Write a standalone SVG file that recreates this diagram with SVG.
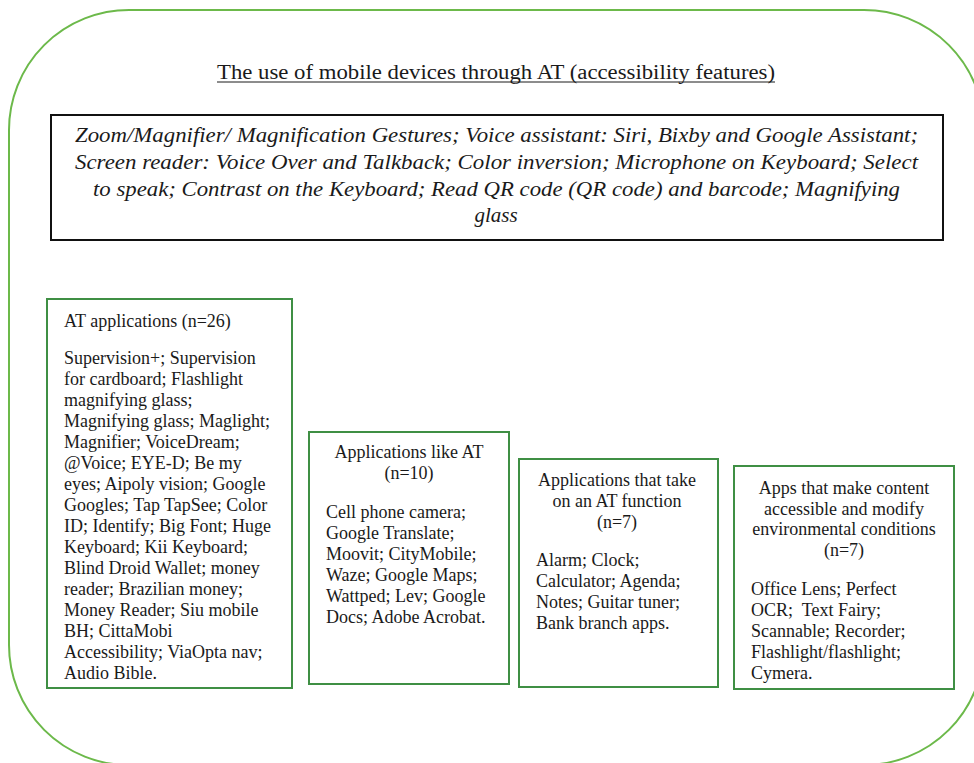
<svg xmlns="http://www.w3.org/2000/svg" width="974" height="763" viewBox="0 0 974 763">
<style>
.t{font-family:"Liberation Serif","Times New Roman",serif;fill:#1a1a1a;font-size:18px}
.c{text-anchor:middle}
.i{font-style:italic;font-size:21px}
.box{fill:#fff;stroke:#3f8f44;stroke-width:2}
</style>
<rect width="974" height="763" fill="#fff"/>
<g id="frame">
<rect x="9" y="10" width="975" height="755" rx="120" ry="120" fill="none" stroke="#6cb94a" stroke-width="2"/>
</g>
<g id="title">
<text class="t c" x="496" y="79" textLength="558" lengthAdjust="spacingAndGlyphs" style="font-size:20px">The use of mobile devices through AT (accessibility features)</text>
<line x1="217" y1="82" x2="775" y2="82" stroke="#1a1a1a" stroke-width="1"/>
</g>
<g id="features">
<rect x="51" y="115" width="892" height="125" fill="#fff" stroke="#111" stroke-width="2"/>
<text class="t i" x="75" y="142" textLength="843" lengthAdjust="spacingAndGlyphs">Zoom/Magnifier/ Magnification Gestures; Voice assistant: Siri, Bixby and Google Assistant;</text>
<text class="t i" x="75" y="169" textLength="843" lengthAdjust="spacingAndGlyphs">Screen reader: Voice Over and Talkback; Color inversion; Microphone on Keyboard; Select</text>
<text class="t i" x="93" y="196" textLength="807" lengthAdjust="spacingAndGlyphs">to speak; Contrast on the Keyboard; Read QR code (QR code) and barcode; Magnifying</text>
<text class="t i c" x="496" y="222">glass</text>
</g>
<g id="at-apps">
<rect class="box" x="47" y="299" width="245" height="389"/>
<text class="t" x="64" y="327">AT applications (n=26)</text>
<text class="t" x="64" y="364">Supervision+; Supervision</text>
<text class="t" x="64" y="385">for cardboard; Flashlight</text>
<text class="t" x="64" y="406">magnifying glass;</text>
<text class="t" x="64" y="427">Magnifying glass; Maglight;</text>
<text class="t" x="64" y="448">Magnifier; VoiceDream;</text>
<text class="t" x="64" y="469">@Voice; EYE-D; Be my</text>
<text class="t" x="64" y="490">eyes; Aipoly vision; Google</text>
<text class="t" x="64" y="511">Googles; Tap TapSee; Color</text>
<text class="t" x="64" y="532">ID; Identify; Big Font; Huge</text>
<text class="t" x="64" y="553">Keyboard; Kii Keyboard;</text>
<text class="t" x="64" y="574">Blind Droid Wallet; money</text>
<text class="t" x="64" y="595">reader; Brazilian money;</text>
<text class="t" x="64" y="616">Money Reader; Siu mobile</text>
<text class="t" x="64" y="637">BH; CittaMobi</text>
<text class="t" x="64" y="658">Accessibility; ViaOpta nav;</text>
<text class="t" x="64" y="679">Audio Bible.</text>
</g>
<g id="like-at">
<rect class="box" x="309" y="432" width="200" height="252"/>
<text class="t c" x="409" y="458">Applications like AT</text>
<text class="t c" x="409" y="479">(n=10)</text>
<text class="t" x="326" y="518">Cell phone camera;</text>
<text class="t" x="326" y="539">Google Translate;</text>
<text class="t" x="326" y="560">Moovit; CityMobile;</text>
<text class="t" x="326" y="581">Waze; Google Maps;</text>
<text class="t" x="326" y="602">Wattped; Lev; Google</text>
<text class="t" x="326" y="623">Docs; Adobe Acrobat.</text>
</g>
<g id="at-function">
<rect class="box" x="519" y="459" width="199" height="228"/>
<text class="t c" x="617" y="486">Applications that take</text>
<text class="t c" x="617" y="507">on an AT function</text>
<text class="t c" x="617" y="528">(n=7)</text>
<text class="t" x="536" y="566">Alarm; Clock;</text>
<text class="t" x="536" y="587">Calculator; Agenda;</text>
<text class="t" x="536" y="608">Notes; Guitar tuner;</text>
<text class="t" x="536" y="629">Bank branch apps.</text>
</g>
<g id="content-apps">
<rect class="box" x="734" y="466" width="220" height="223"/>
<text class="t c" x="844" y="494">Apps that make content</text>
<text class="t c" x="844" y="515">accessible and modify</text>
<text class="t c" x="844" y="535">environmental conditions</text>
<text class="t c" x="844" y="556">(n=7)</text>
<text class="t" x="751" y="595">Office Lens; Perfect</text>
<text class="t" x="751" y="616" style="white-space:pre">OCR;  Text Fairy;</text>
<text class="t" x="751" y="637">Scannable; Recorder;</text>
<text class="t" x="751" y="658">Flashlight/flashlight;</text>
<text class="t" x="751" y="679">Cymera.</text>
</g>
<g id="connectors"></g>
</svg>
